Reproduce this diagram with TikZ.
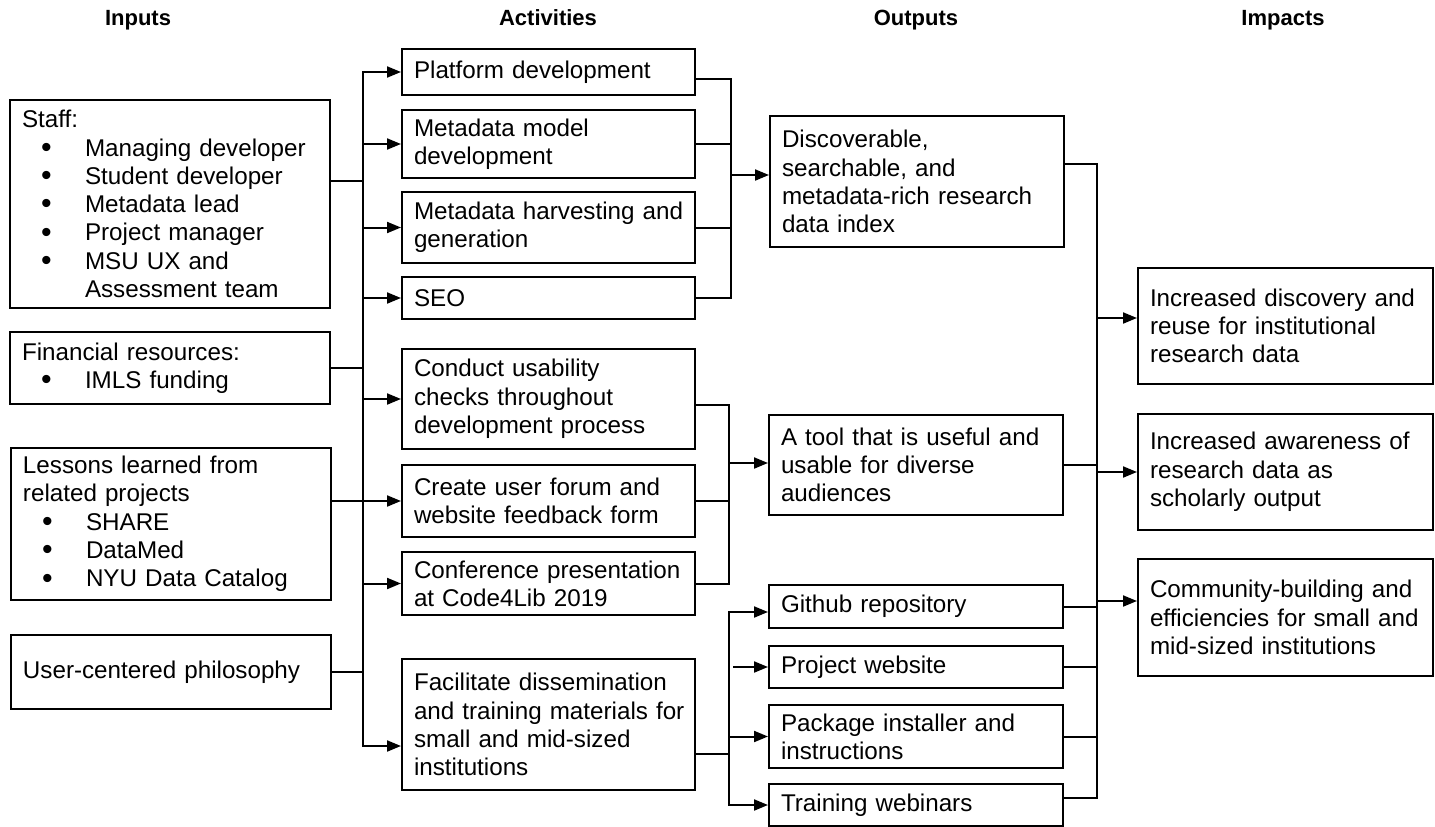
\documentclass[tikz,border=0pt]{standalone}
\usepackage{fontspec}
\setmainfont{Liberation Sans}
\usetikzlibrary{arrows.meta}
\newcommand\bl[1]{\hspace*{19pt}\makebox[44pt][l]{\raisebox{-0.05em}{\scalebox{1.25}{\textbullet}}}#1}
\newcommand\ml[1]{\mbox{#1}}
\begin{document}
\begin{tikzpicture}[x=1pt,y=-1pt,
  box/.style={draw, line width=2pt, anchor=north west, align=left, inner xsep=12pt, inner ysep=3pt, font=\fontsize{24.2}{28.3}\selectfont},
  hdr/.style={anchor=base, font=\bfseries\fontsize{22}{26}\selectfont},
  ln/.style={line width=2pt},
  arr/.style={ln, -{Triangle[length=14pt,width=11pt]}}]
\useasboundingbox[fill=white] (0,0) rectangle (1435,827);

% headers
\node[hdr] (h1) at (138,25) {Inputs};
\node[hdr] (h2) at (548,25) {Activities};
\node[hdr] (h3) at (916,25) {Outputs};
\node[hdr] (h4) at (1283,25) {Impacts};

% inputs
\node[box, text width=296pt, minimum height=208pt] (staff) at (9,99) {Staff:\\
\bl{Managing developer}\\
\bl{Student developer}\\
\bl{Metadata lead}\\
\bl{Project manager}\\
\bl{MSU UX and}\\
\hspace*{63pt}Assessment team};
\node[box, text width=296pt, minimum height=72pt] (fin) at (9,331) {Financial resources:\\ \bl{IMLS funding}};
\node[box, text width=296pt, minimum height=152pt] (less) at (10,447) {Lessons learned from\\ related projects\\ \bl{SHARE}\\ \bl{DataMed}\\ \bl{NYU Data Catalog}};
\node[box, text width=296pt, minimum height=74pt] (user) at (10,634) {User-centered philosophy};

% activities
\node[box, text width=269pt, minimum height=46pt] (act1) at (401,48) {Platform development};
\node[box, text width=269pt, minimum height=68pt] (act2) at (401,109) {Metadata model\\ development};
\node[box, text width=269pt, minimum height=71pt] (act3) at (401,191) {\ml{Metadata harvesting and}\\ generation};
\node[box, text width=269pt, minimum height=42pt] (act4) at (401,276) {SEO};
\node[box, text width=269pt, minimum height=100pt] (act5) at (401,348) {Conduct usability\\ checks throughout\\ \ml{development process}};
\node[box, text width=269pt, minimum height=72pt] (act6) at (401,464) {\ml{Create user forum and}\\ \ml{website feedback form}};
\node[box, text width=269pt, minimum height=63pt] (act7) at (401,551) {\ml{Conference presentation}\\ at Code4Lib 2019};
\node[box, text width=269pt, minimum height=131pt] (act8) at (401,658) {\ml{Facilitate dissemination}\\ \ml{and training materials for}\\ small and mid-sized\\ institutions};

% outputs
\node[box, text width=270pt, minimum height=131pt] (out1) at (769,115) {Discoverable,\\ searchable, and\\ \ml{metadata-rich research}\\ data index};
\node[box, text width=270pt, minimum height=100pt] (out2) at (768,414) {\ml{A tool that is useful and}\\ usable for diverse\\ audiences};
\node[box, text width=270pt, minimum height=43pt] (out3) at (768,584) {Github repository};
\node[box, text width=270pt, minimum height=42pt] (out4) at (768,645) {Project website};
\node[box, text width=270pt, minimum height=63pt] (out5) at (768,704) {\ml{Package installer and}\\ instructions};
\node[box, text width=270pt, minimum height=42pt] (out6) at (768,783) {Training webinars};

% impacts
\node[box, text width=271pt, minimum height=116pt] (imp1) at (1137,267) {\ml{Increased discovery and}\\ \ml{reuse for institutional}\\ research data};
\node[box, text width=271pt, minimum height=116pt] (imp2) at (1137,413) {\ml{Increased awareness of}\\ research data as\\ scholarly output};
\node[box, text width=271pt, minimum height=117pt] (imp3) at (1137,558) {\ml{Community-building and}\\ \ml{efficiencies for small and}\\ \ml{mid-sized institutions}};

% input bus
\coordinate (ibM) at (363,400);
\coordinate (ibB) at (363,746);
\coordinate (iS) at (363,181);
\draw[arr] (ibM) |- (act1.west);
\draw[arr] (ibM) |- (act8.west |- ibB);
\draw[ln] (staff.east |- iS) -- (iS);
\draw[ln] (fin.east) -- (fin.east -| ibM);
\draw[arr] (less.east |- act6.west) -- (act6.west);
\draw[ln] (user.east) -- (user.east -| ibM);
\foreach \n in {act2,act3,act4,act5,act7} {\draw[arr] (ibM |- \n.west) -- (\n.west);}

% activity bus 1
\coordinate (b1) at (731,175);
\coordinate (b1t) at (731,79);
\draw[ln] (act1.east |- b1t) -| (b1);
\draw[ln] (act4.east) -| (b1);
\draw[ln] (act2.east) -- (act2.east -| b1);
\draw[ln] (act3.east) -- (act3.east -| b1);
\draw[arr] (b1) -- (b1 -| out1.west);

% activity bus 2
\coordinate (b2) at (729,463);
\coordinate (b2t) at (729,405);
\draw[ln] (act5.east |- b2t) -| (b2);
\draw[ln] (act7.east) -| (b2);
\draw[ln] (act6.east) -- (act6.east -| b2);
\draw[arr] (b2) -- (b2 -| out2.west);

% activity bus 3
\coordinate (b3) at (729,754);
\coordinate (b3g) at (729,612);
\draw[ln] (act8.east |- b3) -- (b3);
\draw[arr] (b3) |- (out3.west |- b3g);
\draw[arr] (b3) |- (out6.west);
\draw[arr] ([xshift=4pt]b3 |- out4.west) -- (out4.west);
\draw[arr] (b3 |- out5.west) -- (out5.west);

% right bus
\coordinate (rb) at (1097,470);
\coordinate (rbt) at (1097,164);
\coordinate (rbb) at (1097,798);
\draw[ln] (out1.east |- rbt) -| (rb);
\draw[ln] (out6.east |- rbb) -| (rb);
\draw[ln] (out2.east) -- (out2.east -| rb);
\draw[ln] (out3.east) -- (out3.east -| rb);
\draw[ln] (out4.east) -- (out4.east -| rb);
\draw[ln] (out5.east) -- (out5.east -| rb);
\coordinate (ra1) at (1097,318);
\coordinate (ra3) at (1097,601);
\draw[arr] (ra1) -- (imp1.west |- ra1);
\draw[arr] (imp2.west -| rb) -- (imp2.west);
\draw[arr] (ra3) -- (imp3.west |- ra3);
\end{tikzpicture}
\end{document}
